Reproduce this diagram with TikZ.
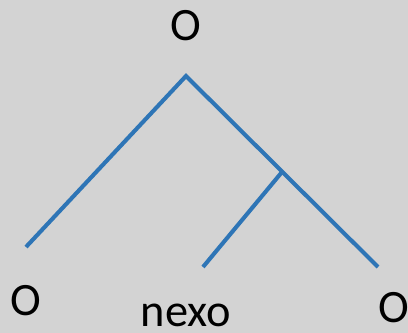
\documentclass[tikz,border=0pt]{standalone}
\usepackage{fontspec}
\setmainfont{Carlito}
\usetikzlibrary{positioning}
\definecolor{bggray}{RGB}{211,211,211}
\definecolor{branchblue}{RGB}{46,117,182}
\begin{document}
\begin{tikzpicture}[x=0.025cm,y=-0.025cm, every node/.style={font=\fontsize{33}{40}\selectfont,inner sep=0pt,anchor=base}, branch/.style={draw=branchblue,line width=2.9pt}]
\fill[bggray] (0,0) rectangle (408,333);
\useasboundingbox (0,0) rectangle (408,333);
\node (otop) at (186,41) {O};
\node (oleft) at (26,316) {O};
\node (nexo) at (186,327) {nexo};
\node (oright) at (394,323) {O};
\coordinate (apex) at (186,76);
\coordinate (leftend) at (26,247);
\coordinate (rightend) at (378,267);
\coordinate (joint) at (282,172);
\coordinate (nexoend) at (203,267);
\draw[branch] (leftend)--(apex)--(rightend);
\draw[branch] (joint)--(nexoend);
\end{tikzpicture}
\end{document}
